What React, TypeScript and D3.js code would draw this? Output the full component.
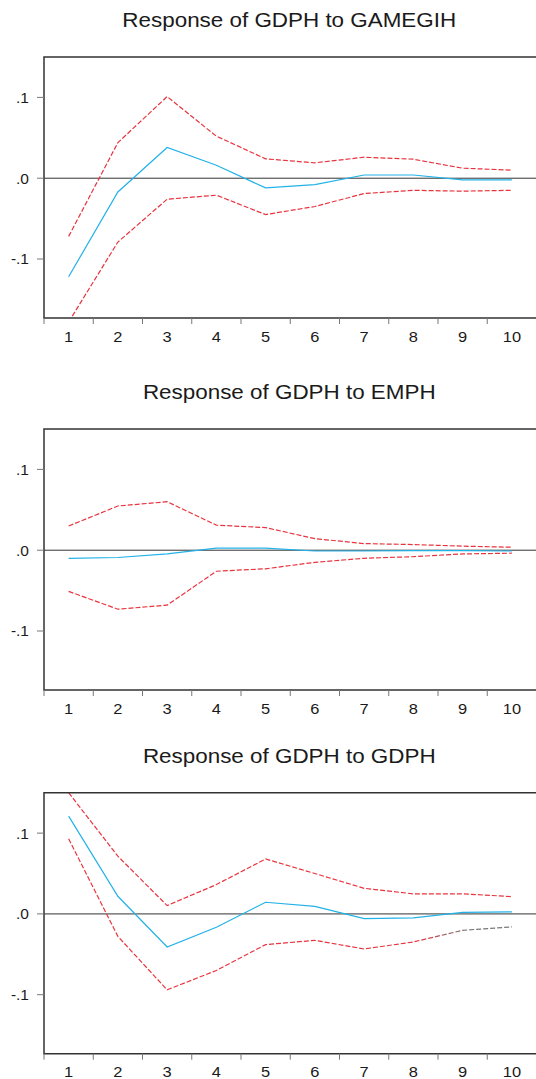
import React from 'react';
import * as d3 from 'd3';

const steps = [1, 2, 3, 4, 5, 6, 7, 8, 9, 10];
const yTicks = [0.1, 0, -0.1];
const yTickLabels = ['.1', '.0', '-.1'];

const titles = [
  'Response of GDPH to GAMEGIH',
  'Response of GDPH to EMPH',
  'Response of GDPH to GDPH',
];

// impulse responses (blue) and +/- 2 s.e. bands (red dashed)
const gamegihResp = [-0.122, -0.017, 0.038, 0.016, -0.012, -0.008, 0.004, 0.004, -0.002, -0.002];
const gamegihUpper = [-0.072, 0.044, 0.101, 0.052, 0.024, 0.019, 0.026, 0.0235, 0.0124, 0.010];
const gamegihLower = [-0.178, -0.079, -0.026, -0.021, -0.045, -0.035, -0.019, -0.015, -0.016, -0.015];

const emphResp = [-0.010, -0.009, -0.0045, 0.0025, 0.0025, -0.001, -0.001, -0.0005, -0.0005, -0.001];
const emphUpper = [0.030, 0.0547, 0.060, 0.031, 0.028, 0.0143, 0.0082, 0.007, 0.005, 0.0037];
const emphLower = [-0.051, -0.073, -0.068, -0.026, -0.023, -0.015, -0.010, -0.008, -0.0046, -0.0037];

const gdphResp = [0.121, 0.0218, -0.041, -0.0166, 0.0144, 0.0094, -0.0058, -0.005, 0.002, 0.0025];
const gdphUpper = [0.150, 0.0714, 0.0103, 0.0363, 0.068, 0.050, 0.0317, 0.0248, 0.0248, 0.0214];
const gdphLower = [0.093, -0.0278, -0.094, -0.070, -0.038, -0.0327, -0.0434, -0.0347, -0.0203, -0.0161];

const panels = [
  { title: titles[0], resp: gamegihResp, upper: gamegihUpper, lower: gamegihLower },
  { title: titles[1], resp: emphResp, upper: emphUpper, lower: emphLower },
  { title: titles[2], resp: gdphResp, upper: gdphUpper, lower: gdphLower },
];

const W = 536;
const H = 1079;
const left = 44;
const right = 536.5;
const panelTops = [57, 429, 792.7];
const panelH = 261;
const font = '"Liberation Sans", Arial, sans-serif';
const blue = '#22b2e8';
const red = '#e8343f';

const x = d3.scaleLinear().domain([0.5, 10.5]).range([left, right]);

function Panel({ idx }: { idx: number }) {
  const p = panels[idx];
  const top = panelTops[idx];
  const bottom = top + panelH;
  const y = d3.scaleLinear().domain([-0.173, 0.15]).range([bottom, top]);
  const line = d3.line<number>()
    .x((d, i) => x(steps[i]))
    .y(d => y(d));
  const clipId = 'clip' + idx;
  const boundaries = d3.range(0.5, 11, 1);
  const gradId = 'grad' + idx;

  return (
    <g>
      <defs>
        <clipPath id={clipId}>
          <rect x={left} y={top} width={right - left} height={panelH} />
        </clipPath>
        <linearGradient id={gradId} gradientUnits="userSpaceOnUse" x1={x(1)} x2={x(10)} y1={0} y2={0}>
          <stop offset="0" stopColor={red} />
          <stop offset="0.78" stopColor={red} />
          <stop offset="0.9" stopColor="#777" />
          <stop offset="1" stopColor="#777" />
        </linearGradient>
      </defs>
      <text
        transform={`translate(${(left + right) / 2 - 1},${top - 30}) scale(1.15,1)`}
        textAnchor="middle"
        fontFamily={font}
        fontSize={19.5}
        fill="#1a1a1a"
      >
        {p.title}
      </text>
      {/* zero line */}
      <line x1={left} x2={W} y1={y(0)} y2={y(0)} stroke="#333" strokeWidth={1} />
      <g clipPath={`url(#${clipId})`}>
        <path d={line(p.upper) || ''} fill="none" stroke={red} strokeWidth={1.2} strokeDasharray="5,2" />
        <path
          d={line(p.lower) || ''}
          fill="none"
          stroke={idx === 2 ? `url(#${gradId})` : red}
          strokeWidth={1.2}
          strokeDasharray="5,2"
        />
        <path d={line(p.resp) || ''} fill="none" stroke={blue} strokeWidth={1.2} />
      </g>
      {/* frame */}
      <path
        d={`M${W + 2},${top}H${left}V${bottom}H${W + 2}`}
        fill="none"
        stroke="#333"
        strokeWidth={1.5}
      />
      {yTicks.map((t, i) => (
        <g key={t}>
          <line x1={left - 7} x2={left} y1={y(t)} y2={y(t)} stroke="#777" strokeWidth={1} />
          <text
            x={29}
            y={y(t)}
            dy="0.35em"
            textAnchor="end"
            fontFamily={font}
            fontSize={15.5}
            fill="#1a1a1a"
          >
            {yTickLabels[i]}
          </text>
        </g>
      ))}
      {boundaries.map(b => (
        <line key={b} x1={x(b)} x2={x(b)} y1={bottom} y2={bottom + 6} stroke="#777" strokeWidth={1} />
      ))}
      {steps.map(s => (
        <text
          key={s}
          transform={`translate(${x(s)},${bottom + 23.5}) scale(1.06,1)`}
          textAnchor="middle"
          fontFamily={font}
          fontSize={15.5}
          fill="#1a1a1a"
        >
          {s}
        </text>
      ))}
    </g>
  );
}

export default function App() {
  return (
    <svg
      width={W}
      height={H}
      style={{ position: 'absolute', left: 0, top: 0, background: '#fff' }}
    >
      {panels.map((_, i) => (
        <Panel key={i} idx={i} />
      ))}
    </svg>
  );
}
